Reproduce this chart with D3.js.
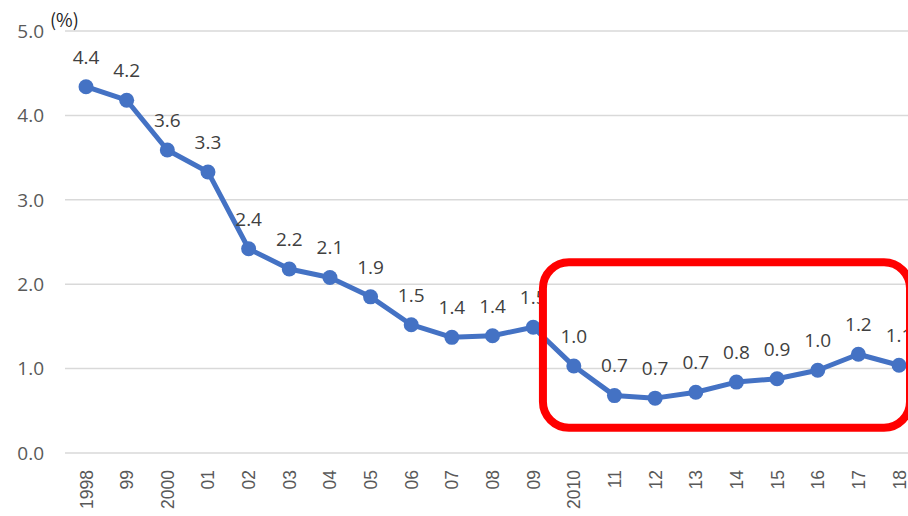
<!DOCTYPE html>
<html><head><meta charset="utf-8">
<script src="https://cdn.jsdelivr.net/npm/d3@7"></script>
<style>body{margin:0;background:#fff}svg{display:block}</style>
</head><body>
<svg id="c" width="908" height="516"></svg>
<script>
const categories = ["1998","99","2000","01","02","03","04","05","06","07","08","09","2010","11","12","13","14","15","16","17","18"];
const values = [4.34,4.18,3.59,3.33,2.42,2.18,2.08,1.85,1.52,1.37,1.39,1.49,1.03,0.68,0.65,0.72,0.84,0.88,0.98,1.17,1.04];
const labels = ["4.4","4.2","3.6","3.3","2.4","2.2","2.1","1.9","1.5","1.4","1.4","1.5","1.0","0.7","0.7","0.7","0.8","0.9","1.0","1.2","1.1"];
const yTicks = [0,1,2,3,4,5];
const highlightRange = ["2010","18"];

const svg = d3.select("#c");
const left = 65.7, bandW = 40.65;
const x = d3.scaleBand().domain(categories).range([left, left + bandW*categories.length]);
const y = d3.scaleLinear().domain([0,5]).range([453,31]);
const cx = d => x(d) + x.bandwidth()/2;

// gridlines
svg.append("g").selectAll("line").data(yTicks).join("line")
  .attr("x1",65).attr("x2",908).attr("y1",d=>y(d)).attr("y2",d=>y(d))
  .attr("stroke","#d9d9d9").attr("stroke-width",1.5);

// y labels
svg.append("g").selectAll("text").data(yTicks).join("text")
  .attr("x",44).attr("y",d=>y(d)).attr("dy","0.36em").attr("text-anchor","end")
  .attr("font-family","Open Sans, sans-serif").attr("font-size",19).attr("fill","#595959")
  .text(d=>d.toFixed(1));

svg.append("text").attr("x",50).attr("y",27).attr("font-family","Noto Sans CJK JP, sans-serif")
  .attr("font-size",18).attr("fill","#222").text("(%)");

// x labels
svg.append("g").selectAll("text").data(categories).join("text")
  .attr("transform",d=>`translate(${cx(d)+6.5},470) rotate(-90)`)
  .attr("text-anchor","end")
  .attr("font-family","Liberation Sans, Arial, sans-serif").attr("font-size",17.5).attr("fill","#595959")
  .text(d=>d);

// line
const line = d3.line().x((d,i)=>cx(categories[i])).y(d=>y(d));
svg.append("path").datum(values).attr("d",line).attr("fill","none")
  .attr("stroke","#4472c4").attr("stroke-width",5).attr("stroke-linejoin","round");
svg.append("g").selectAll("circle").data(values).join("circle")
  .attr("cx",(d,i)=>cx(categories[i])).attr("cy",d=>y(d)).attr("r",7.5).attr("fill","#4472c4");

// data labels
svg.append("g").selectAll("text").data(values).join("text")
  .attr("x",(d,i)=>cx(categories[i])).attr("y",d=>y(d)-30).attr("dy","0.36em")
  .attr("text-anchor","middle").attr("font-family","Open Sans, sans-serif").attr("font-size",19)
  .attr("fill","#404040").text((d,i)=>labels[i]);

// highlight box
const hx0 = cx(highlightRange[0]) - bandW*0.76;
const hx1 = cx(highlightRange[1]) + bandW*0.27;
svg.append("rect").attr("x",hx0).attr("y",y(2.26)).attr("width",hx1-hx0).attr("height",y(0.3)-y(2.26))
  .attr("rx",26).attr("fill","none").attr("stroke","#ff0000").attr("stroke-width",8);
</script>
</body></html>
